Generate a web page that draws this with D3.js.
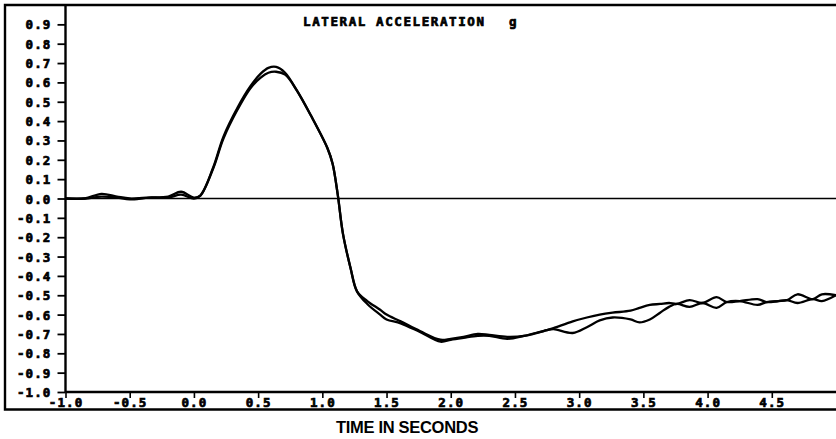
<!DOCTYPE html>
<html>
<head>
<meta charset="utf-8">
<script src="https://cdn.jsdelivr.net/npm/d3@7"></script>
<style>
  html, body { margin: 0; padding: 0; background: #fff; }
  svg { display: block; }
  .tick-label { font-family: "DejaVu Sans Mono", monospace; font-weight: bold; font-size: 12.5px; letter-spacing: 1.1px;
    fill: #000; stroke: #000; stroke-width: 0.7px; }
</style>
</head>
<body>
<svg id="chart" width="836" height="439"></svg>
<script>
// Sample times (s) shared by both runs
const times = [-1.0, -0.85, -0.72, -0.6, -0.5, -0.35, -0.2, -0.1, 0.0, 0.05, 0.15, 0.23, 0.34, 0.44, 0.52, 0.58,
  0.64, 0.71, 0.8, 0.91, 1.04, 1.08, 1.12, 1.16, 1.22, 1.27, 1.35, 1.45, 1.5, 1.61, 1.76, 1.92, 2.0, 2.1,
  2.21, 2.3, 2.44, 2.57, 2.75, 2.8, 2.95, 3.06, 3.16, 3.26, 3.4, 3.47, 3.55, 3.63, 3.7, 3.76, 3.86, 3.96,
  4.07, 4.15, 4.25, 4.39, 4.46, 4.55, 4.62, 4.7, 4.82, 4.89, 5.0];

// Lateral acceleration (g), run 1
const runA = [0.0, 0.0, 0.024, 0.01, 0.0, 0.005, 0.01, 0.035, 0.005, 0.015, 0.16, 0.32, 0.47, 0.58, 0.645, 0.675,
  0.68, 0.65, 0.56, 0.43, 0.26, 0.18, 0.02, -0.18, -0.36, -0.48, -0.53, -0.575, -0.60, -0.635, -0.685, -0.73, -0.725, -0.715,
  -0.70, -0.705, -0.715, -0.71, -0.68, -0.67, -0.635, -0.615, -0.60, -0.59, -0.58, -0.565, -0.55, -0.545, -0.54, -0.545, -0.525, -0.54,
  -0.51, -0.535, -0.53, -0.52, -0.535, -0.53, -0.525, -0.495, -0.52, -0.495, -0.50];

// Lateral acceleration (g), run 2
const runB = [0.0, 0.0, 0.01, 0.005, -0.005, 0.005, 0.005, 0.02, 0.0, 0.015, 0.155, 0.31, 0.46, 0.57, 0.625, 0.65,
  0.655, 0.64, 0.56, 0.43, 0.26, 0.18, 0.02, -0.18, -0.36, -0.48, -0.545, -0.60, -0.625, -0.645, -0.69, -0.74, -0.73, -0.72,
  -0.71, -0.71, -0.725, -0.71, -0.68, -0.675, -0.695, -0.665, -0.63, -0.615, -0.625, -0.64, -0.625, -0.59, -0.56, -0.545, -0.56, -0.54,
  -0.565, -0.535, -0.53, -0.55, -0.535, -0.53, -0.525, -0.54, -0.52, -0.53, -0.50];

const xTicks = [-1.0, -0.5, 0.0, 0.5, 1.0, 1.5, 2.0, 2.5, 3.0, 3.5, 4.0, 4.5];
const xTickLabels = ["-1.0", "-0.5", "0.0", "0.5", "1.0", "1.5", "2.0", "2.5", "3.0", "3.5", "4.0", "4.5"];
const yTicks = [0.9, 0.8, 0.7, 0.6, 0.5, 0.4, 0.3, 0.2, 0.1, 0.0, -0.1, -0.2, -0.3, -0.4, -0.5, -0.6, -0.7, -0.8, -0.9, -1.0];
const yTickLabels = ["0.9", "0.8", "0.7", "0.6", "0.5", "0.4", "0.3", "0.2", "0.1", "0.0", "-0.1", "-0.2", "-0.3",
  "-0.4", "-0.5", "-0.6", "-0.7", "-0.8", "-0.9", "-1.0"];

const svg = d3.select("#chart");
const plot = { left: 65.5, right: 836, top: 5, bottom: 392 };

const x = d3.scaleLinear().domain([-1, 5]).range([plot.left, plot.right]);
const y = d3.scaleLinear().domain([-1, 1]).range([plot.bottom, plot.top]);

// outer frame
svg.append("path")
  .attr("d", `M836,5 H5 V409.5 H836`)
  .attr("fill", "none").attr("stroke", "#000").attr("stroke-width", 2.4);

// zero reference line
svg.append("line")
  .attr("x1", plot.left).attr("x2", plot.right)
  .attr("y1", y(0)).attr("y2", y(0))
  .attr("stroke", "#000").attr("stroke-width", 1.7);

// y axis
const yAxis = svg.append("g")
  .attr("transform", `translate(${plot.left},0)`)
  .call(d3.axisLeft(y).tickValues(yTicks).tickSize(8).tickPadding(6)
    .tickFormat((d, i) => yTickLabels[i]));
yAxis.select(".domain").attr("stroke-width", 2.4).attr("d", `M0,${plot.top}V${plot.bottom}`);
yAxis.selectAll(".tick line").attr("stroke-width", 1.8);
yAxis.selectAll(".tick text").attr("class", "tick-label").attr("dy", "0.36em");

// x axis
const xAxis = svg.append("g")
  .attr("transform", `translate(0,${plot.bottom})`)
  .call(d3.axisBottom(x).tickValues(xTicks).tickSize(6).tickPadding(1)
    .tickFormat((d, i) => xTickLabels[i]));
xAxis.select(".domain").attr("stroke-width", 2.4).attr("d", `M${plot.left},0H${plot.right}`);
xAxis.selectAll(".tick line").attr("stroke-width", 1.6);
xAxis.selectAll(".tick text").attr("class", "tick-label").attr("dy", "0.6em");
svg.selectAll("g").attr("font-size", null).attr("font-family", null);

// acceleration traces
const line = d3.line()
  .x((d, i) => x(times[i]))
  .y(d => y(d))
  .curve(d3.curveCatmullRom.alpha(0.5));

[runA, runB].forEach(run => {
  svg.append("path")
    .datum(run)
    .attr("d", line)
    .attr("fill", "none")
    .attr("stroke", "#000")
    .attr("stroke-width", 2.3)
    .attr("stroke-linejoin", "round");
});

// title
svg.append("text")
  .attr("x", 303).attr("y", 26)
  .attr("class", "tick-label")
  .style("letter-spacing", "1.6px")
  .text("LATERAL ACCELERATION");
svg.append("text")
  .attr("x", 509).attr("y", 26)
  .attr("class", "tick-label")
  .text("g");

// x axis title
svg.append("text")
  .attr("x", 407).attr("y", 433)
  .attr("text-anchor", "middle")
  .attr("font-family", "Liberation Sans, Arial, sans-serif")
  .attr("font-weight", "bold")
  .attr("font-size", 16.5)
  .style("letter-spacing", "-0.3px")
  .text("TIME IN SECONDS");
</script>
</body>
</html>
